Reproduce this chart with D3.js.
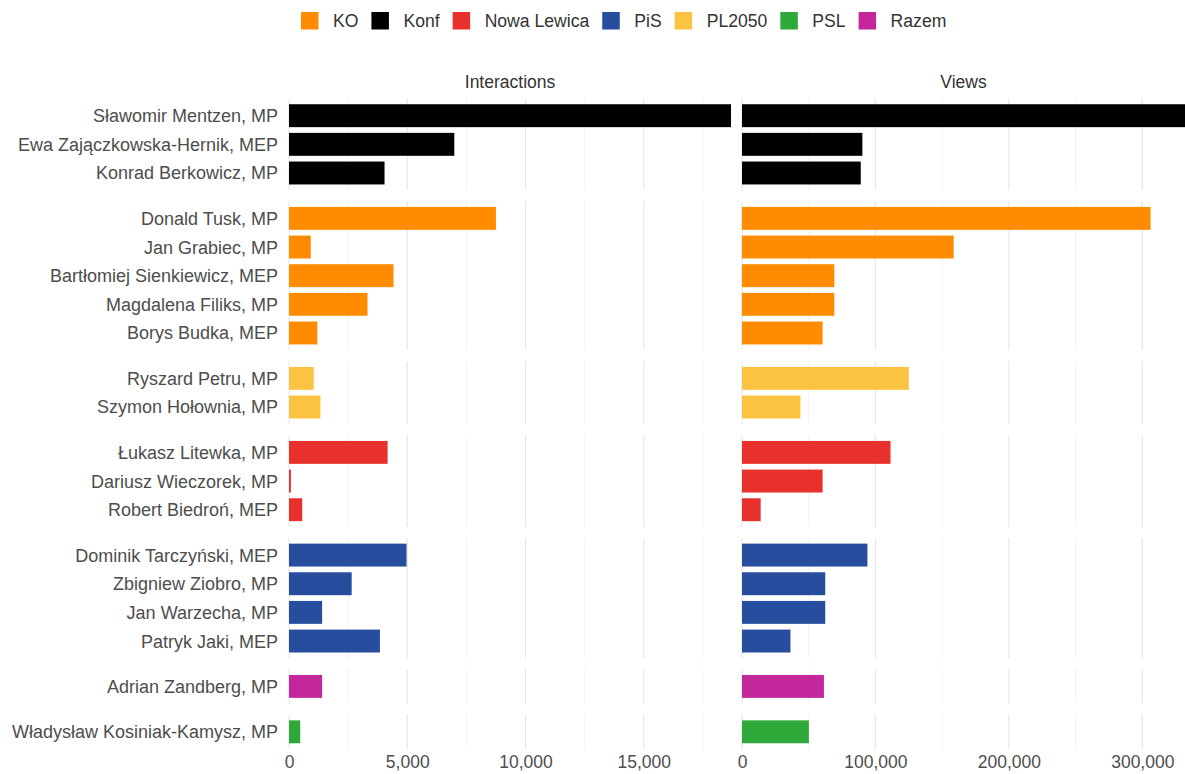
<!DOCTYPE html>
<html>
<head>
<meta charset="utf-8">
<script src="https://cdn.jsdelivr.net/npm/d3@7"></script>
<style>
  html, body { margin: 0; padding: 0; background: #fff; }
  svg { display: block; font-family: "Liberation Sans", Arial, sans-serif; }
</style>
</head>
<body>
<svg id="chart" width="1185" height="774"></svg>
<script>
// ---------- data ----------
const names = [
  "Sławomir Mentzen, MP", "Ewa Zajączkowska-Hernik, MEP", "Konrad Berkowicz, MP",
  "Donald Tusk, MP", "Jan Grabiec, MP", "Bartłomiej Sienkiewicz, MEP", "Magdalena Filiks, MP", "Borys Budka, MEP",
  "Ryszard Petru, MP", "Szymon Hołownia, MP",
  "Łukasz Litewka, MP", "Dariusz Wieczorek, MP", "Robert Biedroń, MEP",
  "Dominik Tarczyński, MEP", "Zbigniew Ziobro, MP", "Jan Warzecha, MP", "Patryk Jaki, MEP",
  "Adrian Zandberg, MP",
  "Władysław Kosiniak-Kamysz, MP"
];
const parties = [
  "Konf", "Konf", "Konf",
  "KO", "KO", "KO", "KO", "KO",
  "PL2050", "PL2050",
  "Nowa Lewica", "Nowa Lewica", "Nowa Lewica",
  "PiS", "PiS", "PiS", "PiS",
  "Razem",
  "PSL"
];
const interactions = [18690, 6990, 4040, 8750, 920, 4420, 3320, 1200, 1045, 1330, 4170, 80, 560, 4970, 2650, 1400, 3845, 1400, 475];
const views = [332000, 90200, 89000, 306200, 158650, 69200, 69200, 60400, 125000, 43800, 111300, 60400, 14000, 94000, 62400, 62400, 36300, 61400, 50100];

const groupOrder = ["Konf", "KO", "PL2050", "Nowa Lewica", "PiS", "Razem", "PSL"];
const legendOrder = ["KO", "Konf", "Nowa Lewica", "PiS", "PL2050", "PSL", "Razem"];
const partyColors = ["#FF8C00", "#000000", "#E8312C", "#264D9E", "#FCC343", "#2EA838", "#C4279C"];
const metrics = ["Interactions", "Views"];
const interactionTicks = [0, 5000, 10000, 15000];
const interactionMinor = [2500, 7500, 12500, 17500];
const viewTicks = [0, 100000, 200000, 300000];
const viewMinor = [50000, 150000, 250000];

// ---------- setup ----------
const svg = d3.select("#chart");
const color = d3.scaleOrdinal(legendOrder, partyColors);
const rows = names.map((n, i) => ({ name: n, party: parties[i], interactions: interactions[i], views: views[i] }));

const plotTop = 98.5, plotBottom = 749, vGap = 11;
const counts = groupOrder.map(g => rows.filter(r => r.party === g).length);
const step = (plotBottom - plotTop - vGap * (groupOrder.length - 1)) / (d3.sum(counts) + 0.2 * groupOrder.length);

const xI = d3.scaleLinear([0, d3.max(interactions)], [289, 731]);
const xV = d3.scaleLinear([0, d3.max(views)], [742, 1185]);
const panelsX = [
  { metric: metrics[0], x: xI, major: interactionTicks, minor: interactionMinor, key: "interactions" },
  { metric: metrics[1], x: xV, major: viewTicks, minor: viewMinor, key: "views" }
];

const gridG = svg.append("g");
const barG = svg.append("g");
const labelG = svg.append("g");

let panelTop = plotTop;
groupOrder.forEach((g, gi) => {
  const h = step * (counts[gi] + 0.2);
  const groupRows = rows.filter(r => r.party === g);
  const y = d3.scaleBand(groupRows.map(r => r.name), [panelTop, panelTop + h]).paddingInner(0.2).paddingOuter(0.2);

  panelsX.forEach(p => {
    gridG.selectAll(null).data(p.minor.filter(v => p.x(v) <= p.x.range()[1])).join("line")
      .attr("x1", d => p.x(d)).attr("x2", d => p.x(d))
      .attr("y1", panelTop).attr("y2", panelTop + h)
      .attr("stroke", "#efefef").attr("stroke-width", 0.8);
    gridG.selectAll(null).data(p.major).join("line")
      .attr("x1", d => p.x(d)).attr("x2", d => p.x(d))
      .attr("y1", panelTop).attr("y2", panelTop + h)
      .attr("stroke", "#e6e6e6").attr("stroke-width", 1.1);
    barG.selectAll(null).data(groupRows).join("rect")
      .attr("x", p.x(0))
      .attr("y", d => y(d.name))
      .attr("width", d => p.x(d[p.key]) - p.x(0))
      .attr("height", y.bandwidth())
      .attr("fill", d => color(d.party));
  });

  labelG.selectAll(null).data(groupRows).join("text")
    .attr("x", 278)
    .attr("y", d => y(d.name) + y.bandwidth() / 2)
    .attr("dy", "0.36em")
    .attr("text-anchor", "end")
    .attr("font-size", 18)
    .attr("fill", "#4d4d4d")
    .text(d => d.name);

  panelTop += h + vGap;
});

panelsX.forEach(p => {
  svg.append("text")
    .attr("x", (p.x.range()[0] + p.x.range()[1]) / 2)
    .attr("y", 87.5)
    .attr("text-anchor", "middle")
    .attr("font-size", 17.5)
    .attr("fill", "#333")
    .text(p.metric);

  const ax = svg.append("g")
    .attr("transform", `translate(0,${plotBottom})`)
    .call(d3.axisBottom(p.x).tickValues(p.major).tickFormat(d3.format(",")).tickSize(0).tickPadding(0));
  ax.select(".domain").remove();
  ax.selectAll("text")
    .attr("font-family", "Liberation Sans, Arial, sans-serif")
    .attr("font-size", 17.5)
    .attr("fill", "#4d4d4d")
    .attr("dy", null)
    .attr("y", 19);
});

const legend = svg.append("g");
let lx = 301;
legendOrder.forEach(p => {
  legend.append("rect")
    .attr("x", lx).attr("y", 12).attr("width", 17.5).attr("height", 17.5)
    .attr("fill", color(p));
  const t = legend.append("text")
    .attr("x", lx + 32).attr("y", 21).attr("dy", "0.36em")
    .attr("font-size", 17.6).attr("fill", "#333")
    .text(p);
  lx += 32 + t.node().getComputedTextLength() + 13;
});
</script>
</body>
</html>
